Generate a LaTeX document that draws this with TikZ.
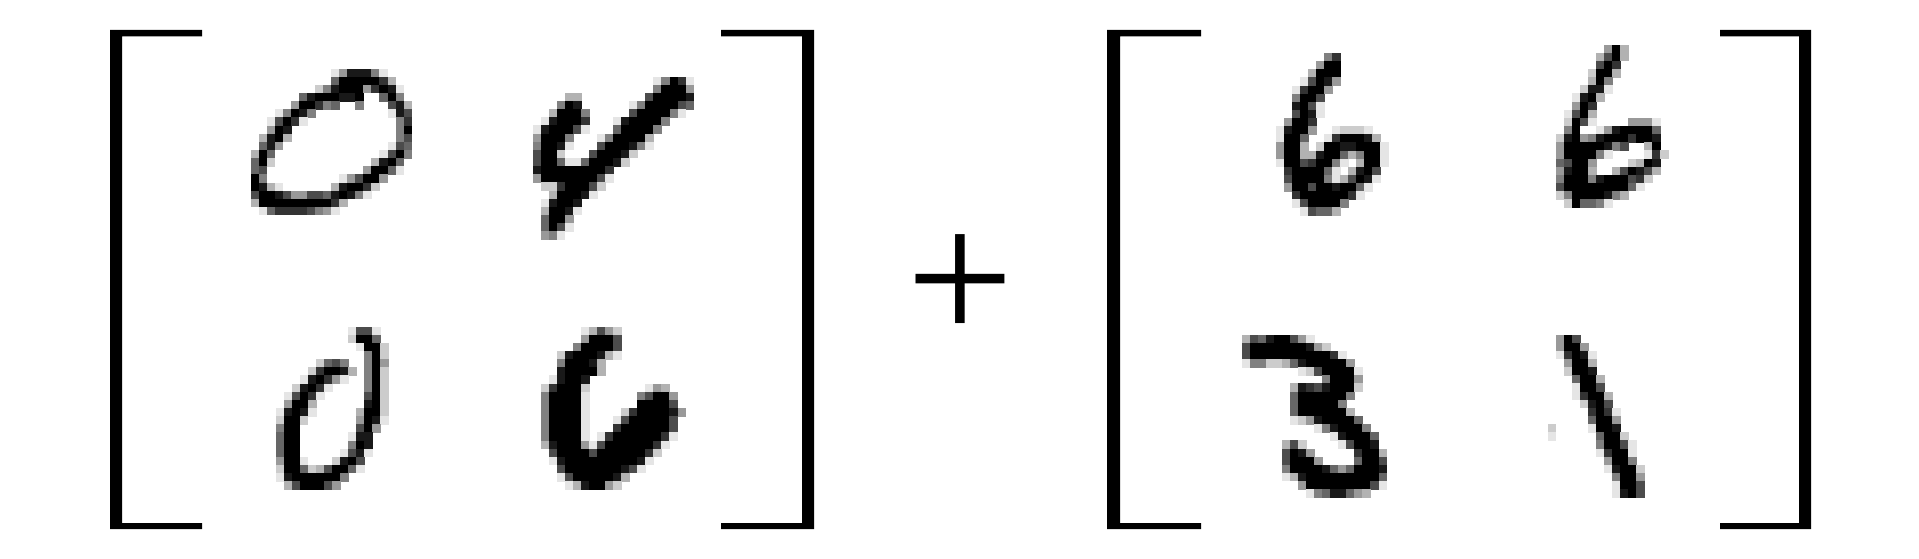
\documentclass[tikz,border=0pt]{standalone}
\usepackage{fontspec}
\newfontfamily\plusfont{Liberation Serif}

\newcount\pixcol
\def\pixwalk#1{\ifx#1;\else
  \ifx#1-\else\fill[white!#10!black] ({\digx+\the\pixcol*8.03},{\digy+\rowno*8.13}) rectangle ++(8.4,8.5);\fi
  \advance\pixcol by 1
  \expandafter\pixwalk\fi}
\newcommand{\handdigit}[3]{\def\digx{#1}\def\digy{#2}%
  \foreach \pixline [count=\rowno from 0] in {#3} {\pixcol=0 \expandafter\pixwalk\pixline;}}

\begin{document}
\begin{tikzpicture}[
    x=1pt, y=-1pt,
    bracket/.style={fill=black},
    plussign/.style={font=\plusfont\fontsize{191}{191}\selectfont, inner sep=0pt},
]
\useasboundingbox (0,0) rectangle (1919,559);

\fill[bracket] (110,30) -- (202,30) -- (202,36.5) -- (122,36.5) -- (122,523) -- (202,523) -- (202,529) -- (110,529) -- cycle;
\fill[bracket] (814,30) -- (721,30) -- (721,36.5) -- (802,36.5) -- (802,523) -- (721,523) -- (721,529) -- (814,529) -- cycle;
\fill[bracket] (1107,30) -- (1201,30) -- (1201,36.5) -- (1120,36.5) -- (1120,523) -- (1201,523) -- (1201,529) -- (1107,529) -- cycle;
\fill[bracket] (1811,30) -- (1720,30) -- (1720,36.5) -- (1799,36.5) -- (1799,523) -- (1720,523) -- (1720,529) -- (1811,529) -- cycle;

\node[plussign] (plus) at (960,289) {+};

\handdigit{251}{68.7}{
  ----------9611159, ----------40000027, --------85100062019, ------41000110--405,
  -----600254--5---317, ---95015---------913, --93029-----------52, --601-------------50,
  -7107-------------53, -416-------------934, 704-------------9305, 408------------7104,
  43------------60049, 05---------963006, 0179------710028, 300136633410159,
  700000000027, -9422223569}

\handdigit{533}{76.7}{
  ---------------95029, ---------------50006, ----77--------300001, ---501------95000034,
  --70005-----3000059, -910002---9100005, 9100039---400005, 60005---9500007,
  50019---3000159, 3008---300018, 300499400018, 1000000002,
  6000000039, -88200038, --700019, -91001,
  -70019, -4006, -4039, -659}

\handdigit{276}{326.7}{
  ---------9339, ---------8004, ----------9008, -----------508,
  -----8435--506, ----820017-508, ---910269--508, --81029----508,
  -93029-----308, -6007------108, 91019-----7008, 8008------6019,
  500-------306, 400------911, 400------501, 400-----9319,
  6009---8103, 80048730049, 910000005, -7300036}

\handdigit{541}{326.7}{
  -----97368, -----60003, ----500003, --81000179,
  --500017, --100007, -91001, 820008-------967,
  500009------53006, 500009------00003, 500009----82000016, 500009---93000003,
  500009---20000003, 500009-9200000029, 7100069300000029, -30000300000028,
  -9100000000019, --30000000139, --930000017, ---9710068}

\handdigit{1276}{53}{
  ------52, -----600, ----7000, ---93016,
  --92006, --5003, --1039, --3019,
  -6002, 91006--98889, 9004--9200017, 6007-800110009,
  60077100475009, 900320059-7009, -2000049-7103, -300005973019,
  -60030010049, --200000029, --9300005, ---93447}

\handdigit{1556}{44.7}{
  ------607, -----7307, -----302, ----8007,
  ----705, ---8119, --9107, --602,
  -9307, -8039----6669, -50--96100004, 8106510002001,
  600000153--70, 6000059----928, 43006----8701, 61007--730137,
  500051000328, 30000000049, 850000157, -804459}

\handdigit{1242}{334.7}{
  734100369, 30000000168, 3000000000029, 95588741000006,
  -------98300009, ----------50006, ------712310008, ------40000005,
  ------4000005, ------40000007, ------986100004, ---------9510005,
  -----------910004, -----738----93001, -----3016-----2007, -----30006----4003,
  -----5000014640001, -----9710000000004, -------60000000039, --------95411467}

\handdigit{1548}{334.7}{
  -603, -6006, -92019, --6007,
  --8001, ---4007, ---9003, ---92007,
  ----8103, -----2029, -----4006, 8----9001,
  9-----4008, ------50039, ------92009, -------6005,
  -------91008, --------5006, --------9003, --------9103}
\end{tikzpicture}
\end{document}
